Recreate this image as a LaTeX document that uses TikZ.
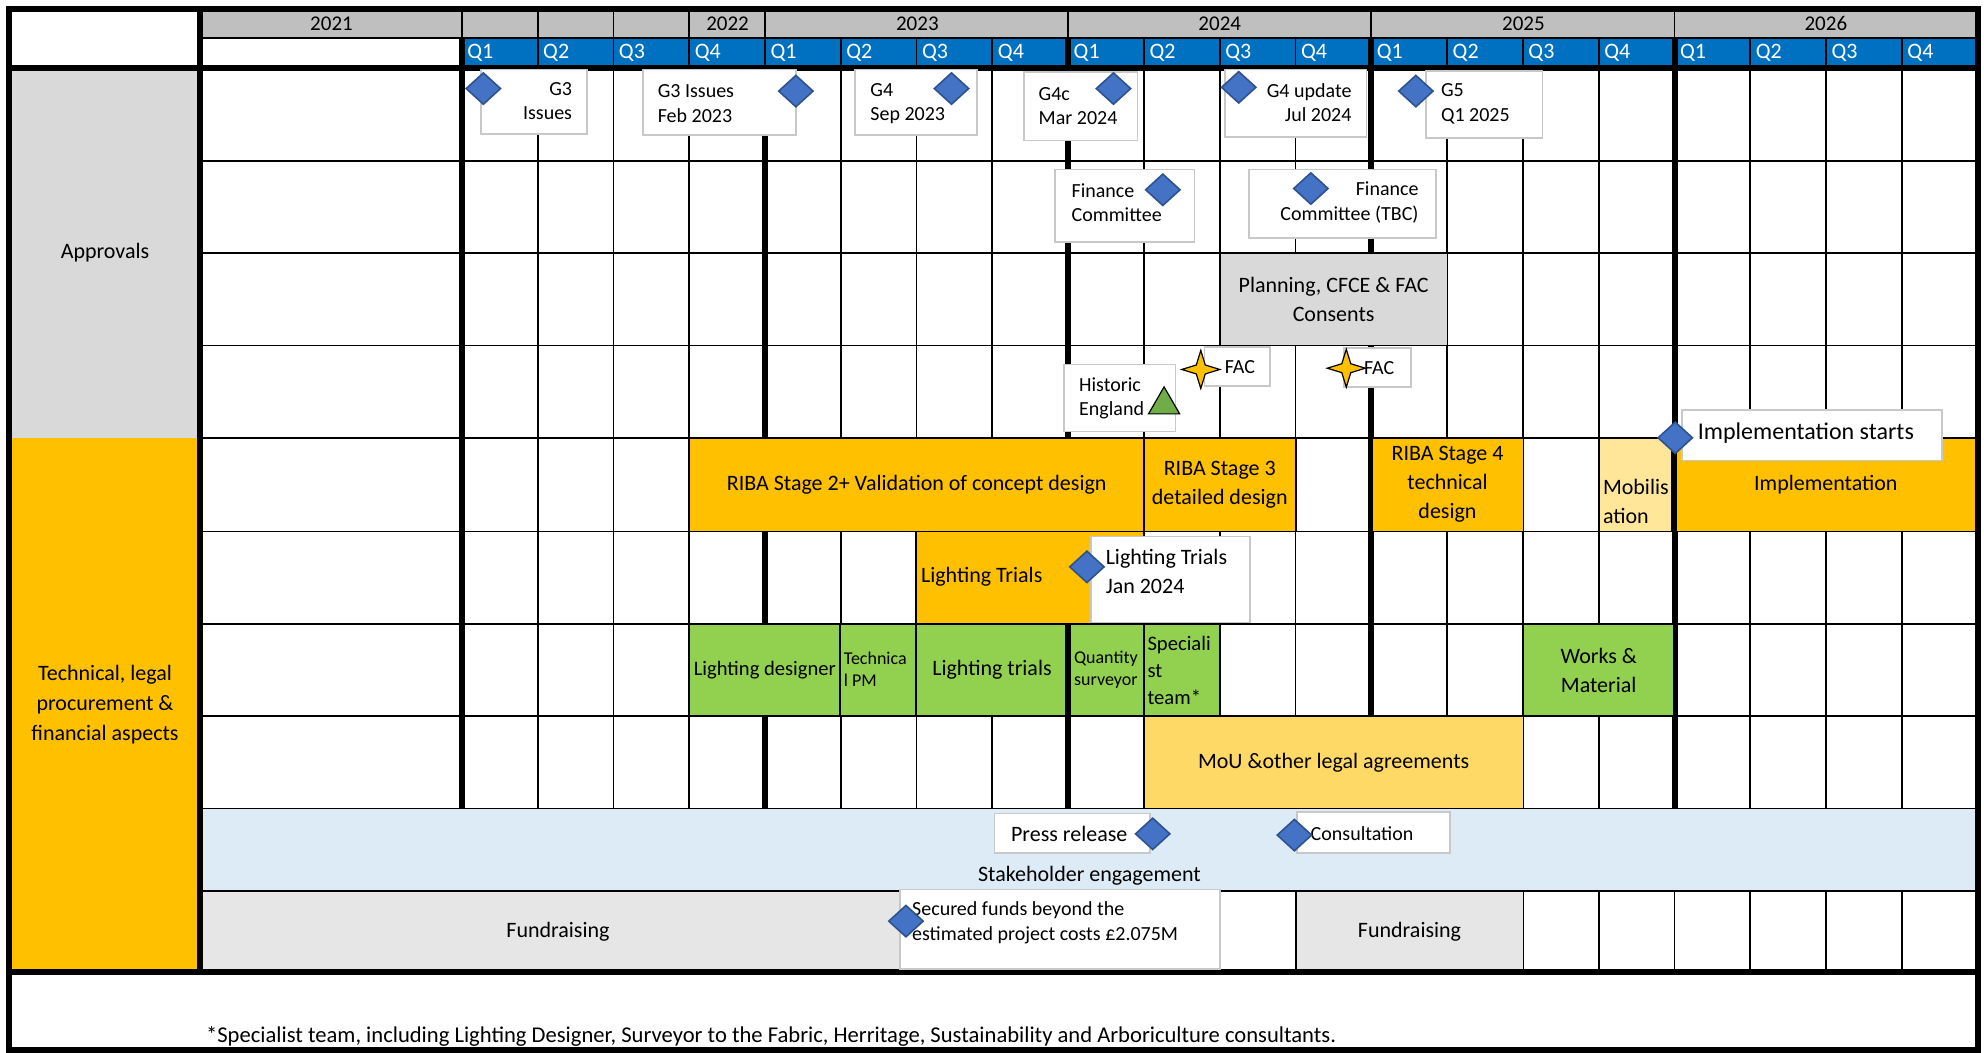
\documentclass[tikz,border=0pt]{standalone}
\usepackage{fontspec}
\setmainfont{Carlito}
\usepackage{tikz}
\usetikzlibrary{shapes,positioning}
\usepackage{xcolor}
\definecolor{yeargrey}{RGB}{191,191,191}
\definecolor{qblue}{RGB}{0,112,192}
\definecolor{apprgrey}{RGB}{217,217,217}
\definecolor{techorange}{RGB}{255,192,0}
\definecolor{mobyellow}{RGB}{255,230,153}
\definecolor{teamgreen}{RGB}{146,208,80}
\definecolor{legalyellow}{RGB}{255,217,102}
\definecolor{stakeblue}{RGB}{221,235,247}
\definecolor{fundgrey}{RGB}{231,230,230}
\definecolor{msblue}{RGB}{68,114,196}
\definecolor{msedge}{RGB}{47,82,143}
\definecolor{noteedge}{RGB}{200,200,200}
\definecolor{hegreen}{RGB}{112,173,71}
\tikzstyle{gridline} = [line width=0.9pt]
\tikzstyle{yearline} = [line width=3pt]
\tikzstyle{taskcell} = [draw=black, line width=0.9pt]
\tikzstyle{notebox} = [draw=noteedge, fill=white, line width=0.9pt]
\tikzstyle{notetext} = [inner sep=1pt, font=\fontsize{10}{12.2}\selectfont]
\tikzstyle{milestone} = [diamond, draw=msedge, fill=msblue, line width=0.8pt, minimum width=17.5pt, minimum height=16pt, inner sep=0pt]
\tikzstyle{facstar} = [star, star points=4, star point ratio=3, draw=black, fill=techorange, line width=0.6pt, minimum size=19pt, inner sep=0pt]
\tikzstyle{heflag} = [regular polygon, regular polygon sides=3, draw=black, fill=hegreen, line width=0.6pt, minimum size=18pt, inner sep=0pt]
\tikzstyle{smalltext} = [font=\fontsize{9}{11}\selectfont]

\begin{document}
\begin{tikzpicture}[x=0.6327pt, y=-0.6327pt, font=\fontsize{11}{14.5}\selectfont]
\useasboundingbox (0,0) rectangle (1568,832);

% header and label column
\fill[yeargrey] (158,7) rectangle (1563,30);
\fill[qblue] (365,30) rectangle (1563,54);
\fill[apprgrey] (7,54) rectangle (158,346);
\fill[techorange] (7,346) rectangle (158,768);

% grid
\foreach \y in {127,200,273,346,420,493,566,639,704}
  \draw[gridline] (158,\y) -- (1563,\y);
\draw[gridline] (158,30) -- (1563,30);
\foreach \k in {0,1,2,3,4,8,12,16}
  \draw[gridline] ({365+59.9*\k},7) -- ({365+59.9*\k},30);
\foreach \k in {1,2,3,4,5,6,7,9,10,11,13,14,15,17,18,19}
  \draw[gridline] ({365+59.9*\k},30) -- ({365+59.9*\k},639);
\foreach \k in {0,4,8,12,16}
  \draw[yearline] ({365+59.9*\k},54) -- ({365+59.9*\k},639);
\foreach \k in {0,8,12,16}
  \draw[yearline] ({365+59.9*\k},30) -- ({365+59.9*\k},54);
\foreach \k in {1,...,19}
  \draw[gridline] ({365+59.9*\k},704) -- ({365+59.9*\k},768);

% years and quarters
\node[font=\fontsize{10.5}{12}\selectfont] (y2021) at (262,18.5) {2021};
\node[font=\fontsize{10.5}{12}\selectfont] (y2022) at (575,18.5) {2022};
\node[font=\fontsize{10.5}{12}\selectfont] (y2023) at (725,18.5) {2023};
\node[font=\fontsize{10.5}{12}\selectfont] (y2024) at (964,18.5) {2024};
\node[font=\fontsize{10.5}{12}\selectfont] (y2025) at (1204,18.5) {2025};
\node[font=\fontsize{10.5}{12}\selectfont] (y2026) at (1443,18.5) {2026};
\foreach \k in {0,...,19}{
  \pgfmathtruncatemacro{\qn}{mod(\k,4)+1}
  \node[anchor=west, text=white, inner sep=1pt] (q\k) at ({365+59.9*\k+2.5},42) {Q\qn};
}

% approvals
\draw[taskcell, fill=apprgrey] (964,200) rectangle (1144,273) node[midway, align=center] (planning) {Planning, CFCE \& FAC\\Consents};

% design stages
\draw[taskcell, fill=techorange] (545,346) rectangle (904,420) node[midway] (riba2) {RIBA Stage 2+ Validation of concept design};
\draw[taskcell, fill=techorange] (904,346) rectangle (1024,420) node[midway, align=center] (riba3) {RIBA Stage 3\\detailed design};
\draw[taskcell, fill=techorange] (1084,346) rectangle (1204,420) node[midway, align=center] (riba4) {RIBA Stage 4\\technical\\design};
\draw[taskcell, fill=mobyellow] (1264,346) rectangle (1323,420);
\node[anchor=west, align=left, inner sep=1pt] (mobil) at (1265,396) {Mobilis\\ation};
\draw[taskcell, fill=techorange] (1323,346) rectangle (1563,420) node[midway] (implem) {Implementation};
\draw[yearline] (1323,346) -- (1323,420);
\draw[taskcell, fill=techorange] (724,420) rectangle (904,493);
\node[anchor=west, inner sep=1pt] (trialsbar) at (726,456) {Lighting Trials};

% team
\draw[taskcell, fill=teamgreen] (545,493) rectangle (664,566) node[midway, font=\fontsize{10.3}{12}\selectfont] (ldesigner) {Lighting designer};
\draw[taskcell, fill=teamgreen] (664,493) rectangle (724,566);
\node[smalltext, anchor=west, align=left, inner sep=1pt] (techpm) at (665,529) {Technica\\l PM};
\draw[taskcell, fill=teamgreen] (724,493) rectangle (844,566) node[midway] (ltrials) {Lighting trials};
\draw[taskcell, fill=teamgreen] (844,493) rectangle (904,566) node[midway, smalltext, align=center] (qsurveyor) {Quantity\\surveyor};
\draw[taskcell, fill=teamgreen] (904,493) rectangle (964,566);
\node[anchor=west, align=left, inner sep=1pt, font=\fontsize{10.3}{13.5}\selectfont] (spteam) at (905,530) {Speciali\\st\\team*};
\draw[taskcell, fill=teamgreen] (1204,493) rectangle (1323,566) node[midway, align=center] (works) {Works \&\\Material};
\draw[yearline] (844,493) -- (844,566);

% legal
\draw[taskcell, fill=legalyellow] (904,566) rectangle (1204,639) node[midway] (mou) {MoU \&other legal agreements};

% stakeholders and funds
\draw[gridline, fill=stakeblue] (158,639) rectangle (1563,704);
\node (stake) at (861,692) {Stakeholder engagement};
\draw[taskcell, fill=fundgrey] (158,704) rectangle (724,768) node[midway] (fund1) {Fundraising};
\draw[taskcell, fill=fundgrey] (1024,704) rectangle (1204,768) node[midway] (fund2) {Fundraising};

% labels and frame
\node (approvals) at (83,200) {Approvals};
\node[align=center, font=\fontsize{11}{15}\selectfont] (technical) at (83,557) {Technical, legal\\procurement \&\\financial aspects};
\draw[yearline] (158,7) -- (158,768);
\draw[yearline] (7,54) -- (1563,54);
\draw[yearline] (7,768) -- (1563,768);
\draw[yearline] (7,7) rectangle (1563,830);
\node[anchor=west, inner sep=1pt, font=\fontsize{11.3}{13}\selectfont] (footnote) at (161,819) {*Specialist team, including Lighting Designer, Surveyor to the Fabric, Herritage, Sustainability and Arboriculture consultants.};

% gateway notes
\draw[notebox] (380,55) rectangle (464,106);
\node[notetext, anchor=east, align=right] (g3text) at (454,80) {G3\\Issues};
\node[milestone] (g3) at (382,70) {};
\draw[notebox] (508,55) rectangle (629,107);
\node[notetext, anchor=west, align=left] (g3febtext) at (518,82) {G3 Issues\\Feb 2023};
\node[milestone] (g3feb) at (629,72) {};
\draw[notebox] (676,55) rectangle (772,107);
\node[notetext, anchor=west, align=left] (g4text) at (686,82) {G4\\Sep 2023};
\node[milestone] (g4) at (752,70) {};
\draw[notebox] (809,57) rectangle (899,111);
\node[notetext, anchor=west, align=left] (g4ctext) at (819,84) {G4c\\Mar 2024};
\node[milestone] (g4c) at (880,70) {};
\draw[notebox] (968,55) rectangle (1080,108);
\node[notetext, anchor=east, align=right] (g4uptext) at (1070,81) {G4 update\\Jul 2024};
\node[milestone] (g4up) at (979,69) {};
\draw[notebox] (1127,56) rectangle (1219,109);
\node[notetext, anchor=west, align=left] (g5text) at (1137,82) {G5\\Q1 2025};
\node[milestone] (g5) at (1119,72) {};

% finance notes
\draw[notebox] (834,134) rectangle (944,191);
\node[notetext, anchor=west, align=left] (fin1text) at (845,160) {Finance\\Committee};
\node[milestone] (fin1) at (919,150) {};
\draw[notebox] (987,134) rectangle (1135,188);
\node[notetext, anchor=east, align=right] (fin2text) at (1123,160) {Finance\\Committee (TBC)};
\node[milestone] (fin2) at (1036,149) {};

% consents notes
\draw[notebox] (841,288) rectangle (929,341);
\node[notetext, anchor=west, align=left] (hetext) at (851,315) {Historic\\England};
\node[heflag] (he) at (920,320) {};
\draw[notebox] (952,274) rectangle (1004,305);
\node[notetext] (fac1text) at (980,290) {FAC};
\node[facstar] (fac1) at (949,292) {};
\draw[notebox] (1062,275) rectangle (1115,306);
\node[notetext] (fac2text) at (1090,291) {FAC};
\node[facstar] (fac2) at (1064,291) {};

% delivery notes
\draw[notebox] (1329,324) rectangle (1535,364);
\node[anchor=west, inner sep=1pt, font=\fontsize{12}{14}\selectfont] (impltext) at (1340,342) {Implementation starts};
\node[milestone] (impl) at (1324,346) {};
\draw[notebox] (862,424) rectangle (988,492);
\node[anchor=west, align=left, inner sep=1pt, font=\fontsize{11}{14.5}\selectfont] (trialtext) at (872,452) {Lighting Trials\\Jan 2024};
\node[milestone] (trial) at (859,448) {};

% engagement notes
\draw[notebox] (786,643) rectangle (909,674);
\node[inner sep=1pt] (presstext) at (845,659) {Press release};
\node[milestone] (press) at (911,659) {};
\draw[notebox] (1025,642) rectangle (1146,674);
\node[notetext, anchor=west] (consulttext) at (1034,659) {Consultation};
\node[milestone] (consult) at (1023,660) {};
\draw[notebox] (711,703) rectangle (964,766);
\node[notetext, anchor=west, align=left, font=\fontsize{10}{12.6}\selectfont] (fundstext) at (719,729) {Secured funds beyond the\\estimated project costs £2.075M};
\node[milestone] (funds) at (716,728) {};
\end{tikzpicture}
\end{document}
